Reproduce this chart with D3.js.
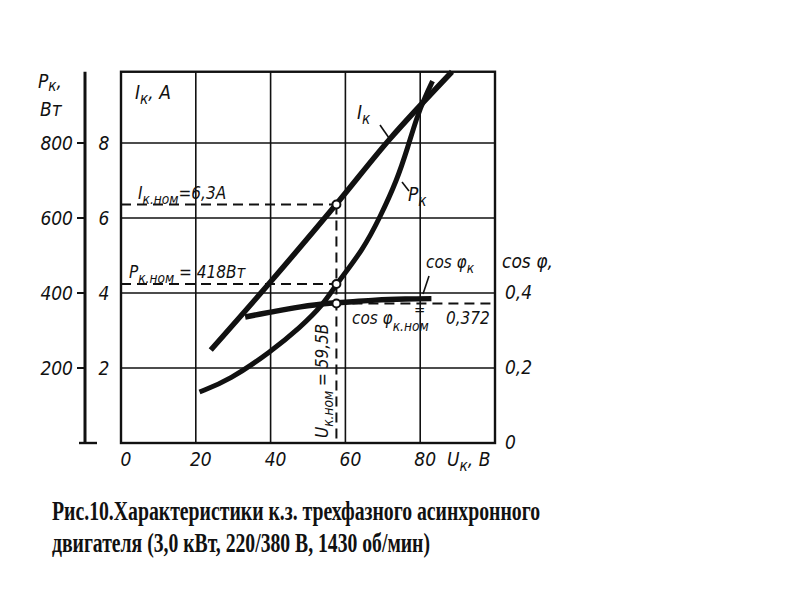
<!DOCTYPE html>
<html>
<head>
<meta charset="utf-8">
<script src="https://cdn.jsdelivr.net/npm/d3@7"></script>
<style>
  body { margin: 0; background: #fff; }
  svg text { font-family: "DejaVu Sans Condensed", "DejaVu Sans", sans-serif; font-style: oblique; fill: #111; }
  .caption { font-family: "Liberation Serif", serif !important; font-style: normal !important; font-weight: bold; }
</style>
</head>
<body>
<svg id="chart" width="800" height="600"></svg>
<script>
// U_k (V) grid ticks and axis labels
var uTicks = [0, 20, 40, 60, 80];
var aTicks = [2, 4, 6, 8];
var pTicks = [200, 400, 600, 800];
var cosTicks = [0, 0.2, 0.4];
var cosTickLabels = ["0", "0,2", "0,4"];

// I_k (A) vs U_k (V)
var iU = [24, 40, 57.5, 72, 88.5];
var iA = [2.48, 4.3, 6.36, 8.12, 9.9];

// P_k (W) vs U_k (V)
var pU = [21, 29, 40, 48, 54, 57.6, 64.7, 69.3, 73.8, 76.7, 79.1, 81.3, 83.3];
var pW = [136, 168, 243, 309, 368, 424, 515, 603, 701, 789, 869, 923, 965];

// cos phi_k vs U_k (V)
var cU = [33.2, 40, 48, 55, 61, 68, 76, 83];
var cPhi = [0.336, 0.349, 0.363, 0.372, 0.376, 0.381, 0.384, 0.385];

// nominal point
var uNom = 57.6;
var iNom = 6.36;
var pNom = 424;
var cosNom = 0.372;

var svg = d3.select("#chart");

var x = d3.scaleLinear().domain([0, 100]).range([121, 495]);
var yA = d3.scaleLinear().domain([0, 10]).range([443, 68]);
var yP = d3.scaleLinear().domain([0, 1000]).range([443, 68]);
var yC = d3.scaleLinear().domain([0, 1]).range([443, 68]);
var topA = 9.9;

//grid lines
svg.append("g").selectAll("line").data(uTicks.slice(1)).enter().append("line")
  .attr("x1", d => x(d)).attr("x2", d => x(d))
  .attr("y1", yA(0)).attr("y2", yA(topA))
  .attr("stroke", "#111").attr("stroke-width", 1.6);
svg.append("g").selectAll("line").data(aTicks).enter().append("line")
  .attr("x1", x(0)).attr("x2", x(100))
  .attr("y1", d => yA(d)).attr("y2", d => yA(d))
  .attr("stroke", "#111").attr("stroke-width", 1.6);

//frame
svg.append("rect")
  .attr("x", x(0)).attr("y", yA(topA))
  .attr("width", x(100) - x(0)).attr("height", yA(0) - yA(topA))
  .attr("fill", "none").attr("stroke", "#111").attr("stroke-width", 2.4);

//separate power axis on the left
var pAxisX = 85;
svg.append("line")
  .attr("x1", pAxisX).attr("x2", pAxisX)
  .attr("y1", yP(0)).attr("y2", yA(topA))
  .attr("stroke", "#111").attr("stroke-width", 3);
svg.append("line")
  .attr("x1", pAxisX - 6).attr("x2", pAxisX + 12)
  .attr("y1", yP(0)).attr("y2", yP(0))
  .attr("stroke", "#111").attr("stroke-width", 2.4);
svg.append("g").selectAll("line").data(pTicks).enter().append("line")
  .attr("x1", pAxisX - 8).attr("x2", pAxisX)
  .attr("y1", d => yP(d)).attr("y2", d => yP(d))
  .attr("stroke", "#111").attr("stroke-width", 2);
svg.append("g").selectAll("text").data(pTicks).enter().append("text")
  .attr("x", pAxisX - 12).attr("y", d => yP(d) + 7)
  .attr("text-anchor", "end").attr("font-size", 19)
  .text(d => d);

// current tick labels
svg.append("g").selectAll("text").data(aTicks).enter().append("text")
  .attr("x", 104).attr("y", d => yA(d) + 7)
  .attr("text-anchor", "middle").attr("font-size", 19)
  .text(d => d);

// cos phi tick labels on the right
svg.append("g").selectAll("text").data(cosTicks).enter().append("text")
  .attr("x", 505).attr("y", d => yC(d) + 6)
  .attr("font-size", 19)
  .text((d, i) => cosTickLabels[i]);

// voltage tick labels
svg.append("g").selectAll("text").data(uTicks).enter().append("text")
  .attr("x", d => x(d) + 5).attr("y", 466)
  .attr("text-anchor", "middle").attr("font-size", 19)
  .text(d => d);

//axis titles
function sub(t, main, s, size, dy) {
  dy = dy || 5;
  t.append("tspan").text(main);
  t.append("tspan").attr("font-size", size * 0.8).attr("dy", dy).text(s);
  return t;
}
var t1 = svg.append("text").attr("x", 38).attr("y", 88).attr("font-size", 19);
sub(t1, "P", "к", 19, 3);
t1.append("tspan").attr("dy", -3).text(",");
svg.append("text").attr("x", 40).attr("y", 116).attr("font-size", 19).text("Вт");

var t2 = svg.append("text").attr("x", 135).attr("y", 99).attr("font-size", 19);
sub(t2, "I", "к", 19);
t2.append("tspan").attr("dy", -5).text(", A");

var t3 = svg.append("text").attr("x", 447).attr("y", 466).attr("font-size", 19);
sub(t3, "U", "к", 19);
t3.append("tspan").attr("dy", -5).text(", B");

svg.append("text").attr("x", 502).attr("y", 268).attr("font-size", 19).text("cos φ,");

//nominal dashed lines
function dashed(x1, y1, x2, y2) {
  svg.append("line")
    .attr("x1", x1).attr("y1", y1).attr("x2", x2).attr("y2", y2)
    .attr("stroke", "#111").attr("stroke-width", 2)
    .attr("stroke-dasharray", "10,6");
}
dashed(x(0), yA(iNom), x(uNom), yA(iNom));
dashed(x(0), yP(pNom), x(uNom), yP(pNom));
dashed(x(uNom), yC(cosNom), x(100), yC(cosNom));
dashed(x(uNom), yA(iNom), x(uNom), yA(0));

//curves
var lineI = d3.line().x(d => x(d[0])).y(d => yA(d[1])).curve(d3.curveCatmullRom);
var lineP = d3.line().x(d => x(d[0])).y(d => yP(d[1])).curve(d3.curveBasis);
var lineC = d3.line().x(d => x(d[0])).y(d => yC(d[1])).curve(d3.curveCatmullRom);

svg.append("path").attr("d", lineI(d3.zip(iU, iA)))
  .attr("fill", "none").attr("stroke", "#111").attr("stroke-width", 5.5);
svg.append("path").attr("d", lineP(d3.zip(pU, pW)))
  .attr("fill", "none").attr("stroke", "#111").attr("stroke-width", 5);
svg.append("path").attr("d", lineC(d3.zip(cU, cPhi)))
  .attr("fill", "none").attr("stroke", "#111").attr("stroke-width", 5.5);

//nominal markers
var marks = [yA(iNom), yP(pNom), yC(cosNom)];
svg.append("g").selectAll("circle").data(marks).enter().append("circle")
  .attr("cx", x(uNom)).attr("cy", d => d).attr("r", 4)
  .attr("fill", "#fff").attr("stroke", "#111").attr("stroke-width", 2);

//curve labels with leaders
function leader(x1, y1, x2, y2) {
  svg.append("line").attr("x1", x1).attr("y1", y1).attr("x2", x2).attr("y2", y2)
    .attr("stroke", "#111").attr("stroke-width", 1.6);
}
var l1 = svg.append("text").attr("x", 357).attr("y", 119).attr("font-size", 19);
sub(l1, "I", "к", 19);
leader(380, 125, 389, 138);

var l2 = svg.append("text").attr("x", 408).attr("y", 201).attr("font-size", 19);
sub(l2, "P", "к", 19);
leader(402, 182, 409, 191);

var l3 = svg.append("text").attr("x", 426).attr("y", 268).attr("font-size", 17);
sub(l3, "cos φ", "к", 17);
leader(429, 276, 423, 294);

//nominal value labels
var n1 = svg.append("text").attr("x", 138).attr("y", 199).attr("font-size", 17);
sub(n1, "I", "к.ном", 17);
n1.append("tspan").attr("dy", -5).text("=6,3A");

var n2 = svg.append("text").attr("x", 129).attr("y", 278).attr("font-size", 17);
sub(n2, "P", "к.ном", 17);
n2.append("tspan").attr("dy", -5).text(" = 418Вт");

var n3 = svg.append("text").attr("x", 352).attr("y", 324).attr("font-size", 17);
sub(n3, "cos φ", "к.ном", 17, 7);
svg.append("text").attr("x", 414).attr("y", 315).attr("font-size", 15).text("=");
svg.append("text").attr("x", 446).attr("y", 324).attr("font-size", 17).text("0,372");

var n4 = svg.append("text").attr("font-size", 17)
  .attr("transform", "translate(328,438) rotate(-90)");
sub(n4, "U", "к.ном", 17);
n4.append("tspan").attr("dy", -5).text(" = 59,5B");

//caption
svg.append("text").attr("class", "caption").attr("x", 52).attr("y", 520)
  .attr("font-size", 27).attr("textLength", 488).attr("lengthAdjust", "spacingAndGlyphs")
  .text("Рис.10.Характеристики к.з. трехфазного асинхронного");
svg.append("text").attr("class", "caption").attr("x", 52).attr("y", 552)
  .attr("font-size", 27).attr("textLength", 378).attr("lengthAdjust", "spacingAndGlyphs")
  .text("двигателя (3,0 кВт, 220/380 В, 1430 об/мин)");
</script>
</body>
</html>
